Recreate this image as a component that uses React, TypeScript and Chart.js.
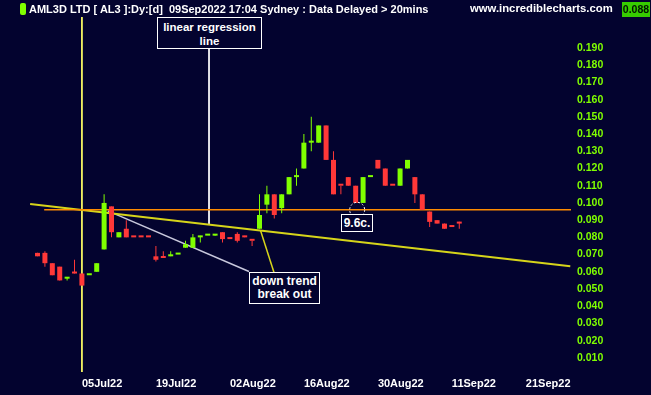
import React, { useEffect, useRef } from 'react';
import { Chart, registerables } from 'chart.js';

Chart.register(...registerables);

// ---- data (AML3D LTD, daily candles, index = trading-day slot) ----
const opens = [
  0.071, 0.071, 0.065, 0.063, 0.056, 0.060, 0.059, 0.058, 0.060, 0.073,
  0.098, 0.080, 0.085, 0.080, 0.080, 0.080, 0.069, 0.068, 0.069, 0.070,
  0.074, 0.074, 0.080, 0.081, 0.081, 0.083, 0.079, 0.082, 0.080, 0.078,
  0.085, 0.099, 0.105, 0.097, 0.105, 0.115, 0.120, 0.135, 0.135, 0.145,
  0.125, 0.110, 0.115, 0.110, 0.100, 0.115, 0.125, 0.120, 0.110, 0.110,
  0.120, 0.115, 0.105, 0.095, 0.090, 0.088, 0.086, 0.089,
];
const highs = [
  0.071, 0.072, 0.065, 0.063, 0.057, 0.067, 0.059, 0.058, 0.065, 0.105,
  0.098, 0.083, 0.090, 0.080, 0.080, 0.080, 0.075, 0.072, 0.072, 0.070,
  0.078, 0.082, 0.081, 0.081, 0.082, 0.083, 0.079, 0.083, 0.081, 0.078,
  0.105, 0.110, 0.105, 0.105, 0.115, 0.120, 0.140, 0.150, 0.145, 0.145,
  0.130, 0.110, 0.115, 0.110, 0.115, 0.115, 0.125, 0.120, 0.110, 0.120,
  0.125, 0.115, 0.105, 0.095, 0.090, 0.088, 0.086, 0.089,
];
const lows = [
  0.069, 0.063, 0.058, 0.055, 0.055, 0.059, 0.052, 0.058, 0.060, 0.073,
  0.080, 0.080, 0.080, 0.080, 0.080, 0.080, 0.066, 0.068, 0.069, 0.070,
  0.074, 0.074, 0.077, 0.081, 0.081, 0.077, 0.079, 0.077, 0.080, 0.075,
  0.085, 0.094, 0.091, 0.094, 0.105, 0.110, 0.120, 0.130, 0.135, 0.125,
  0.105, 0.105, 0.110, 0.100, 0.100, 0.115, 0.120, 0.110, 0.110, 0.110,
  0.120, 0.100, 0.096, 0.086, 0.088, 0.085, 0.086, 0.085,
];
const closes = [
  0.069, 0.065, 0.058, 0.055, 0.057, 0.059, 0.052, 0.058, 0.065, 0.100,
  0.083, 0.083, 0.080, 0.080, 0.080, 0.080, 0.067, 0.068, 0.070, 0.070,
  0.076, 0.080, 0.081, 0.081, 0.082, 0.079, 0.079, 0.078, 0.080, 0.078,
  0.093, 0.105, 0.093, 0.105, 0.115, 0.115, 0.135, 0.135, 0.145, 0.125,
  0.105, 0.110, 0.110, 0.100, 0.115, 0.115, 0.120, 0.110, 0.110, 0.120,
  0.125, 0.105, 0.096, 0.089, 0.088, 0.085, 0.086, 0.088,
];
// 1 = up day (green), 0 = down day (red)
const upDays = [
  0, 0, 0, 0, 1, 0, 0, 1, 1, 1,
  0, 1, 0, 0, 0, 0, 0, 0, 1, 1,
  1, 1, 1, 1, 1, 0, 0, 0, 0, 0,
  1, 1, 0, 1, 1, 1, 1, 1, 1, 0,
  0, 0, 0, 0, 1, 1, 0, 0, 0, 1,
  1, 0, 0, 0, 0, 0, 0, 0,
];

const dateTickIndex = [6, 16, 26, 36, 46, 56, 66];
const dateTickLabels = ['05Jul22', '19Jul22', '02Aug22', '16Aug22', '30Aug22', '11Sep22', '21Sep22'];
const priceTicks = [0.01, 0.02, 0.03, 0.04, 0.05, 0.06, 0.07, 0.08, 0.09, 0.1,
  0.11, 0.12, 0.13, 0.14, 0.15, 0.16, 0.17, 0.18, 0.19];
const xRange = [-5.07, 72.1];
const yRange = [0.0018, 0.208];

const supportX = [0.9, 72.1];
const supportY = [0.096, 0.096];
const regressionX = [-1, 72];
const regressionY = [0.0994, 0.0632];
const downTrendX = [9.5, 28.58];
const downTrendY = [0.0954, 0.0602];
const eventX = [6, 6];
const eventY = [0.208, 0.0018];
const regLabelX = [23.18, 23.18];
const regLabelY = [0.1894, 0.0878];
const breakLabelX = [30.14, 31.96];
const breakLabelY = [0.084, 0.0596];
const cursorX = 43.2;
const cursorY = 0.096;

const GREEN = '#80ff00';
const RED = '#ff3838';
const BG = '#03032f';
const FONT = 'Arial, "Liberation Sans", sans-serif';

const pts = (xs: number[], ys: number[]) => xs.map((x, i) => ({ x, y: ys[i] }));

export default function App() {
  const ref = useRef<HTMLCanvasElement | null>(null);

  useEffect(() => {
    if (!ref.current) return;
    const colors = upDays.map((u) => (u ? GREEN : RED));
    const bodies = opens.map((o, i) => ({ x: i, y: [o, closes[i]] }));
    const wicks = lows.map((l, i) => ({ x: i, y: [l, highs[i]] }));

    const lineDs = (xs: number[], ys: number[], color: string, width: number, order: number) => ({
      type: 'line' as const,
      data: pts(xs, ys),
      borderColor: color,
      borderWidth: width,
      pointRadius: 0,
      fill: false,
      order,
    });

    const cursorPlugin = {
      id: 'cursorRing',
      afterDatasetsDraw(chart: any) {
        const { ctx, scales } = chart;
        const px = scales.x.getPixelForValue(cursorX);
        const py = scales.y.getPixelForValue(cursorY);
        ctx.save();
        ctx.strokeStyle = '#ffffff';
        ctx.lineWidth = 1;
        ctx.setLineDash([2, 2]);
        ctx.beginPath();
        ctx.arc(px, py, 7.5, 0, Math.PI * 2);
        ctx.stroke();
        ctx.restore();
      },
    };

    const chart = new Chart(ref.current, {
      type: 'bar',
      data: {
        datasets: [
          {
            type: 'bar',
            data: bodies as any,
            backgroundColor: colors,
            barThickness: 5,
            minBarLength: 2,
            grouped: false,
            inflateAmount: 0,
            borderWidth: 0,
            order: 0,
          } as any,
          {
            type: 'bar',
            data: wicks as any,
            backgroundColor: colors,
            barThickness: 1,
            grouped: false,
            inflateAmount: 0,
            borderWidth: 0,
            order: 1,
          } as any,
          lineDs(supportX, supportY, '#ff8c00', 1.5, 3),
          lineDs(regressionX, regressionY, '#d6d41a', 2, 4),
          lineDs(downTrendX, downTrendY, '#c8c8dc', 1.5, 5),
          lineDs(eventX, eventY, '#ffff66', 1, 6),
          lineDs(regLabelX, regLabelY, '#ffffff', 1, 7),
          lineDs(breakLabelX, breakLabelY, '#d6d41a', 1.5, 8),
        ],
      },
      options: {
        animation: false,
        responsive: false,
        devicePixelRatio: 1,
        layout: { padding: { top: 17, left: 0, right: 0, bottom: 0 } },
        plugins: { legend: { display: false }, tooltip: { enabled: false }, title: { display: false } },
        events: [],
        scales: {
          x: {
            type: 'linear',
            min: xRange[0],
            max: xRange[1],
            offset: false,
            grid: { display: false, drawTicks: false },
            border: { display: false },
            afterBuildTicks: (scale: any) => {
              scale.ticks = dateTickIndex.map((v) => ({ value: v }));
            },
            afterFit: (scale: any) => {
              scale.height = 23;
            },
            ticks: {
              autoSkip: false,
              maxRotation: 0,
              minRotation: 0,
              align: 'start',
              padding: 5,
              color: '#ffffff',
              font: { family: FONT, size: 11, weight: 'bold' },
              callback: (v: any) => {
                const k = dateTickIndex.indexOf(Number(v));
                return k >= 0 ? dateTickLabels[k] : '';
              },
            },
          },
          y: {
            type: 'linear',
            position: 'right',
            min: yRange[0],
            max: yRange[1],
            grid: { display: false, drawTicks: false },
            border: { display: false },
            afterBuildTicks: (scale: any) => {
              scale.ticks = priceTicks.map((v) => ({ value: v }));
            },
            afterFit: (scale: any) => {
              scale.width = 80;
            },
            ticks: {
              padding: 6,
              color: GREEN,
              font: { family: FONT, size: 10.5, weight: 'bold' },
              callback: (v: any) => Number(v).toFixed(3),
            },
          },
        },
      } as any,
      plugins: [cursorPlugin],
    });
    return () => chart.destroy();
  }, []);

  const box: React.CSSProperties = {
    position: 'absolute',
    boxSizing: 'border-box',
    border: '1px solid #ffffff',
    background: BG,
    color: '#ffffff',
    fontFamily: FONT,
    fontWeight: 'bold',
    textAlign: 'center',
  };

  return (
    <div style={{ position: 'fixed', left: 0, top: 0, width: 651, height: 395, background: BG, overflow: 'hidden' }}>
      <canvas ref={ref} width={651} height={395} style={{ position: 'absolute', left: 0, top: 0 }} />
      <div style={{ position: 'absolute', left: 20, top: 3, width: 6, height: 12, background: GREEN, borderRadius: 2 }} />
      <div style={{ position: 'absolute', left: 29, top: 2, color: '#ffffff', fontFamily: FONT, fontWeight: 'bold', fontSize: 11, lineHeight: '14px', whiteSpace: 'pre' }}>
        {'AML3D LTD [ AL3 ]:Dy:[d]  09Sep2022 17:04 Sydney : Data Delayed > 20mins'}
      </div>
      <div style={{ position: 'absolute', left: 470, top: 1, color: '#ffffff', fontFamily: FONT, fontWeight: 'bold', fontSize: 11.3, lineHeight: '14px', whiteSpace: 'pre' }}>
        www.incrediblecharts.com
      </div>
      <div style={{ position: 'absolute', left: 622, top: 2, width: 28, height: 15, background: '#36cc00', color: '#001400', fontFamily: FONT, fontWeight: 'bold', fontSize: 10.5, lineHeight: '15px', textAlign: 'center' }}>
        0.088
      </div>
      <div style={{ ...box, left: 157, top: 17, width: 105, height: 32, fontSize: 11.5, lineHeight: '14px', paddingTop: 2 }}>
        linear regression<br />line
      </div>
      <div style={{ ...box, left: 249, top: 272, width: 71, height: 32, fontSize: 12, lineHeight: '13px', paddingTop: 2 }}>
        down trend<br />break out
      </div>
      <div style={{ ...box, left: 341, top: 214, width: 32, height: 18, fontSize: 12, lineHeight: '16px' }}>
        9.6c.
      </div>
    </div>
  );
}
